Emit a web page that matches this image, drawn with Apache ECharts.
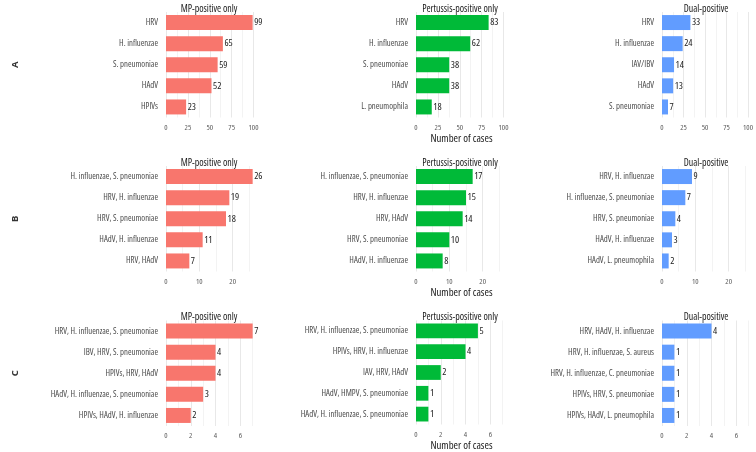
<!DOCTYPE html>
<html>
<head>
<meta charset="utf-8">
<script src="https://cdn.jsdelivr.net/npm/echarts@6/dist/echarts.min.js"></script>
<style>html,body{margin:0;padding:0;background:#fff}#c{width:756px;height:452px}</style>
</head>
<body>
<div id="c"></div>
<script>
// ---- Data ----
const colTitles = ['MP-positive only', 'Pertussis-positive only', 'Dual-positive'];
const rowLabels = ['A', 'B', 'C'];

const rowA_mp_cats = ['HRV', 'H. influenzae', 'S. pneumoniae', 'HAdV', 'HPIVs'];
const rowA_mp_vals = [99, 65, 59, 52, 23];
const rowA_pert_cats = ['HRV', 'H. influenzae', 'S. pneumoniae', 'HAdV', 'L. pneumophila'];
const rowA_pert_vals = [83, 62, 38, 38, 18];
const rowA_dual_cats = ['HRV', 'H. influenzae', 'IAV/IBV', 'HAdV', 'S. pneumoniae'];
const rowA_dual_vals = [33, 24, 14, 13, 7];

const rowB_mp_cats = ['H. influenzae, S. pneumoniae', 'HRV, H. influenzae', 'HRV, S. pneumoniae', 'HAdV, H. influenzae', 'HRV, HAdV'];
const rowB_mp_vals = [26, 19, 18, 11, 7];
const rowB_pert_cats = ['H. influenzae, S. pneumoniae', 'HRV, H. influenzae', 'HRV, HAdV', 'HRV, S. pneumoniae', 'HAdV, H. influenzae'];
const rowB_pert_vals = [17, 15, 14, 10, 8];
const rowB_dual_cats = ['HRV, H. influenzae', 'H. influenzae, S. pneumoniae', 'HRV, S. pneumoniae', 'HAdV, H. influenzae', 'HAdV, L. pneumophila'];
const rowB_dual_vals = [9, 7, 4, 3, 2];

const rowC_mp_cats = ['HRV, H. influenzae, S. pneumoniae', 'IBV, HRV, S. pneumoniae', 'HPIVs, HRV, HAdV', 'HAdV, H. influenzae, S. pneumoniae', 'HPIVs, HAdV, H. influenzae'];
const rowC_mp_vals = [7, 4, 4, 3, 2];
const rowC_pert_cats = ['HRV, H. influenzae, S. pneumoniae', 'HPIVs, HRV, H. influenzae', 'IAV, HRV, HAdV', 'HAdV, HMPV, S. pneumoniae', 'HAdV, H. influenzae, S. pneumoniae'];
const rowC_pert_vals = [5, 4, 2, 1, 1];
const rowC_dual_cats = ['HRV, HAdV, H. influenzae', 'HRV, H. influenzae, S. aureus', 'HRV, H. influenzae, C. pneumoniae', 'HPIVs, HRV, S. pneumoniae', 'HPIVs, HAdV, L. pneumophila'];
const rowC_dual_vals = [4, 1, 1, 1, 1];

// axis settings per row: max (5% expansion), grid step, label step
const rowAxisMax = [104, 27.3, 7.35];
const rowGridStep = [12.5, 5, 1];
const rowLabelStep = [25, 10, 2];
const axisTitle = 'Number of cases';

const panels = [
  [[rowA_mp_cats, rowA_mp_vals], [rowA_pert_cats, rowA_pert_vals], [rowA_dual_cats, rowA_dual_vals]],
  [[rowB_mp_cats, rowB_mp_vals], [rowB_pert_cats, rowB_pert_vals], [rowB_dual_cats, rowB_dual_vals]],
  [[rowC_mp_cats, rowC_mp_vals], [rowC_pert_cats, rowC_pert_vals], [rowC_dual_cats, rowC_dual_vals]]
];

// ---- Layout / style ----
const FONT = '"Open Sans", "Liberation Sans", sans-serif';
const STRETCH = 'condensed';
const colors = ['#F8766D', '#00BA38', '#619CFF'];
const colLeft = [166, 416, 662];
const panelW = 91;
const rowTop = [12, 166, 320.5];
const panelH = 105.5;
const titleX = [204, 455, 701];

const grids = [], xAxes = [], yAxes = [], series = [], titles = [], graphics = [];
let idx = 0;
for (let r = 0; r < 3; r++) {
  for (let c = 0; c < 3; c++) {
    const [cats, vals] = panels[r][c];
    grids.push({ left: colLeft[c], top: rowTop[r], width: panelW, height: panelH, containLabel: false });
    const step = rowLabelStep[r];
    xAxes.push({
      gridIndex: idx, type: 'value', min: 0, max: rowAxisMax[r], interval: rowGridStep[r],
      axisLine: { show: false }, axisTick: { show: false },
      axisLabel: {
        margin: 6, fontSize: 7.8, color: '#5a5a5a', fontFamily: FONT, fontStyle: STRETCH, showMaxLabel: false,
        formatter: v => (Math.abs(v / step - Math.round(v / step)) < 1e-6 ? String(v) : '')
      },
      splitLine: { show: true, showMaxLine: false, lineStyle: { color: ['#e8e8e8', '#f3f3f3'], width: 1 } },
      name: c === 1 ? axisTitle : '', nameLocation: 'middle', nameGap: 15.5,
      nameTextStyle: { fontSize: 10.8, color: '#1a1a1a', fontFamily: FONT, fontStyle: STRETCH }
    });
    yAxes.push({
      gridIndex: idx, type: 'category', data: cats, inverse: true,
      axisLine: { show: false }, axisTick: { show: false },
      axisLabel: { margin: 8, fontSize: 8.7, color: '#4d4d4d', fontFamily: FONT, fontStyle: STRETCH }
    });
    series.push({
      type: 'bar', xAxisIndex: idx, yAxisIndex: idx, data: vals,
      barCategoryGap: '29%',
      itemStyle: { color: colors[c] },
      label: { show: true, position: 'right', distance: 1.5, fontSize: 9.8, color: '#222', fontFamily: FONT, fontStyle: STRETCH },
      silent: true, animation: false
    });
    titles.push({
      text: colTitles[c], left: titleX[c], top: rowTop[r] - 13, textAlign: 'center',
      textStyle: { fontSize: 9.9, fontWeight: 'normal', color: '#1a1a1a', fontFamily: FONT, fontStyle: STRETCH }
    });
    idx++;
  }
  graphics.push({
    type: 'text', x: 15, y: rowTop[r] + panelH / 2, rotation: Math.PI / 2,
    style: { text: rowLabels[r], fontSize: 9.5, fontWeight: 'bold', fill: '#333', fontFamily: FONT, align: 'center', verticalAlign: 'middle' }
  });
}

const chart = echarts.init(document.getElementById('c'), null, { renderer: 'canvas' });
chart.setOption({
  backgroundColor: '#ffffff', animation: false,
  title: titles, grid: grids, xAxis: xAxes, yAxis: yAxes, series: series, graphic: graphics
});
</script>
</body>
</html>
